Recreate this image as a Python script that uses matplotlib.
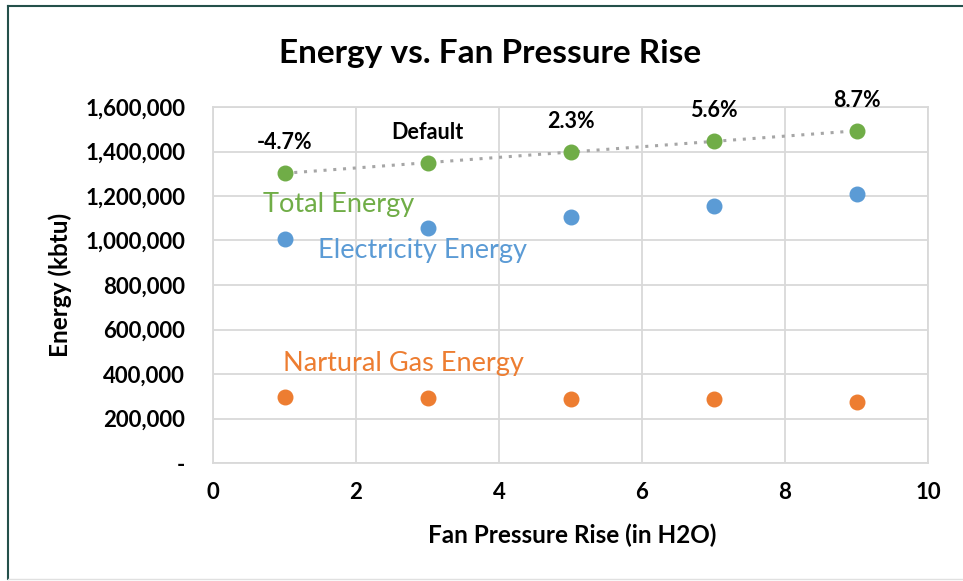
import numpy as np
import matplotlib
matplotlib.use("Agg")
import matplotlib.pyplot as plt
from matplotlib.lines import Line2D
from matplotlib.ticker import FuncFormatter

plt.rcParams['font.family'] = ['Lato', 'DejaVu Sans']

# data
pressure = [1, 3, 5, 7, 9]
total_energy = [1303000, 1348000, 1398000, 1447000, 1492000]
elec_energy = [1007000, 1056000, 1106000, 1155000, 1209000]
gas_energy = [295000, 291000, 286000, 286000, 276000]
change_labels = ["-4.7%", "Default", "2.3%", "5.6%", "8.7%"]

GREEN = '#70AD47'
BLUE = '#5B9BD5'
ORANGE = '#ED7D31'
GRID = '#D9D9D9'

fig = plt.figure(figsize=(9.63, 5.81), dpi=100)
ax = fig.add_axes([213 / 963, 1 - 463 / 581, 715 / 963, 356 / 581])

# dotted linear trendline on total energy
coef = np.polyfit(pressure, total_energy, 1)
xs = np.array([pressure[0], pressure[-1]])
ax.plot(xs, np.polyval(coef, xs), linestyle=(0, (1, 2.2)), color='#A6A6A6',
        linewidth=2.2, zorder=2)

ax.scatter(pressure, total_energy, s=110, color=GREEN, zorder=3)
ax.scatter(pressure, elec_energy, s=110, color=BLUE, zorder=3)
ax.scatter(pressure, gas_energy, s=110, color=ORANGE, zorder=3)

for x, y, lab in zip(pressure, total_energy, change_labels):
    ax.annotate(lab, (x, y), xytext=(0, 22), textcoords='offset points',
                ha='center', va='center', fontsize=15.5, fontweight='bold')

ax.text(1.75, 1160000, "Total Energy", color=GREEN, fontsize=19.5,
        ha='center', va='center')
ax.text(2.93, 957000, "Electricity Energy", color=BLUE, fontsize=19.5,
        ha='center', va='center')
ax.text(2.67, 449000, "Nartural Gas Energy", color=ORANGE, fontsize=19.5,
        ha='center', va='center')

ax.set_xlim(0, 10)
ax.set_ylim(0, 1600000)
ax.set_xticks(range(0, 11, 2))
ax.set_yticks(range(0, 1600001, 200000))
ax.yaxis.set_major_formatter(FuncFormatter(lambda v, p: "-" if v == 0 else f"{v:,.0f}"))
ax.tick_params(length=0, labelsize=16, pad=20)
ax.tick_params(axis='x', pad=14)
for lab in ax.get_xticklabels() + ax.get_yticklabels():
    lab.set_fontweight('bold')

ax.grid(True, color=GRID, linewidth=1.3)
ax.set_axisbelow(True)
for sp in ax.spines.values():
    sp.set_color(GRID)
    sp.set_linewidth(1.3)

ax.set_xlabel("Fan Pressure Rise (in H2O)", fontsize=17.5, fontweight='bold')
ax.set_ylabel("Energy (kbtu)", fontsize=17.5, fontweight='bold')
ax.xaxis.set_label_coords(0.502, -0.171)
ax.yaxis.set_label_coords(-0.197, 0.5)

fig.text(490 / 963, 1 - 53 / 581, "Energy vs. Fan Pressure Rise", fontsize=24,
         fontweight='bold', ha='center', va='center')

# outer chart border
fig.add_artist(Line2D([8 / 963, 1], [1 - 6 / 581, 1 - 6 / 581], color='#24504B', linewidth=1.5))
fig.add_artist(Line2D([8 / 963, 8 / 963], [1 - 6 / 581, 1 - 579 / 581], color='#24504B', linewidth=1.5))
fig.add_artist(Line2D([8 / 963, 1], [1 - 579 / 581, 1 - 579 / 581], color='#E0E0E0', linewidth=1))

fig.savefig("out.png", dpi=100)
